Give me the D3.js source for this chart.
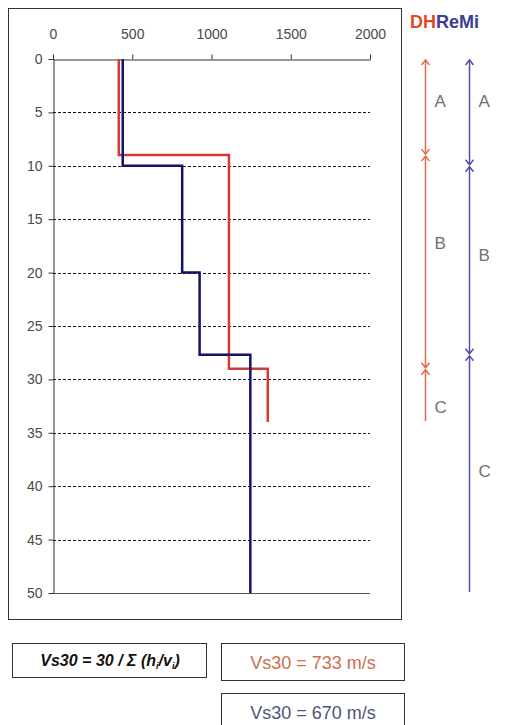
<!DOCTYPE html>
<html>
<head>
<meta charset="utf-8">
<script src="https://cdn.jsdelivr.net/npm/d3@7"></script>
<style>
  html, body { margin: 0; padding: 0; background: #fff; }
  svg { display: block; font-family: Arial, "Liberation Sans", sans-serif; }
</style>
</head>
<body>
<svg id="chart" width="505" height="725"></svg>
<script>
// Shear-wave velocity profiles (m/s) versus depth (m)
const velocityTicks = [0, 500, 1000, 1500, 2000];
const depthTicks = [0, 5, 10, 15, 20, 25, 30, 35, 40, 45, 50];

// Downhole (DH) layers
const dhTop    = [0, 9, 29];
const dhBottom = [9, 29, 34];
const dhVs     = [415, 1110, 1355];

// ReMi layers
const remiTop    = [0, 10, 20, 27.7];
const remiBottom = [10, 20, 27.7, 50];
const remiVs     = [440, 815, 925, 1245];

// Stratigraphic units for each method
const dhUnits       = ["A", "B", "C"];
const dhUnitTop     = [0, 9, 29];
const dhUnitBottom  = [9, 29, 34];
const dhUnitLabelAt = [4.1, 17.4, 32.7];

const remiUnits       = ["A", "B", "C"];
const remiUnitTop     = [0, 10, 27.7];
const remiUnitBottom  = [10, 27.7, 50];
const remiUnitLabelAt = [4.1, 18.5, 38.7];

const legendNames = ["DH", "ReMi"];
const vs30Values  = [733, 670];
const formulaText = "Vs30 = 30 / \u03A3 (h";

const colors = {
  dhLine: "#d23a3a",
  remiLine: "#12126a",
  dhArrow: "#e06a48",
  remiArrow: "#5050a2",
  dhText: "#e2471f",
  remiText: "#3a3c96",
  dhValue: "#c8704f",
  remiValue: "#4d5578"
};

const svg = d3.select("#chart");

const x = d3.scaleLinear().domain([0, 2000]).range([53, 370]);
const y = d3.scaleLinear().domain([0, 50]).range([59, 593]);

// Outer chart frame
svg.append("rect")
  .attr("x", 8.5).attr("y", 8.5)
  .attr("width", 393).attr("height", 611)
  .attr("fill", "none").attr("stroke", "#333").attr("stroke-width", 1);

// Dashed horizontal gridlines
svg.append("g")
  .selectAll("line")
  .data(depthTicks.filter(d => d > 0 && d < 50))
  .join("line")
  .attr("x1", x(0)).attr("x2", x(2000))
  .attr("y1", d => Math.round(y(d)) + 0.5).attr("y2", d => Math.round(y(d)) + 0.5)
  .attr("stroke", "#111").attr("stroke-width", 1)
  .attr("stroke-dasharray", "3,2");

// Bottom boundary of the plot area
svg.append("line")
  .attr("x1", x(0)).attr("x2", x(2000))
  .attr("y1", Math.round(y(50)) + 0.5).attr("y2", Math.round(y(50)) + 0.5)
  .attr("stroke", "#555").attr("stroke-width", 1);

// Velocity axis along the top
const xAxis = svg.append("g")
  .attr("transform", `translate(0,${Math.round(y(0)) + 0.5})`)
  .call(d3.axisTop(x).tickValues(velocityTicks).tickFormat(d3.format("d"))
    .tickSize(5).tickPadding(16).tickSizeOuter(0));

// Depth axis along the left
const yAxis = svg.append("g")
  .attr("transform", `translate(${Math.round(x(0)) + 0.5},0)`)
  .call(d3.axisLeft(y).tickValues(depthTicks).tickFormat(d3.format("d"))
    .tickSize(5).tickPadding(6).tickSizeOuter(0));

[xAxis, yAxis].forEach(g => {
  g.select(".domain").attr("stroke", "#333");
  g.selectAll(".tick line").attr("stroke", "#333");
  g.selectAll(".tick text")
    .attr("fill", "#4a4a4a")
    .style("font-size", "14px")
    .style("font-family", "Arial, 'Liberation Sans', sans-serif");
});

// Step profile builder: each layer drawn as a vertical segment joined by horizontals
function stepPoints(tops, bottoms, vs) {
  const pts = [];
  vs.forEach((v, i) => {
    pts.push([x(v), y(tops[i])]);
    pts.push([x(v), y(bottoms[i])]);
  });
  return pts;
}
const line = d3.line();

svg.append("path")
  .attr("d", line(stepPoints(dhTop, dhBottom, dhVs)))
  .attr("fill", "none")
  .attr("stroke", colors.dhLine)
  .attr("stroke-width", 2.5);

svg.append("path")
  .attr("d", line(stepPoints(remiTop, remiBottom, remiVs)))
  .attr("fill", "none")
  .attr("stroke", colors.remiLine)
  .attr("stroke-width", 2.5);

// Legend title: coloured method names
const legend = svg.append("text")
  .attr("x", 410).attr("y", 28)
  .style("font-size", "18px").style("font-weight", "bold");
legend.append("tspan").text(legendNames[0]).attr("fill", colors.dhText);
legend.append("tspan").text(legendNames[1]).attr("fill", colors.remiText);

// Unit brackets with double arrows
function drawUnits(xPos, tops, bottoms, names, labelAt, lineColor, lastOpenEnd) {
  const g = svg.append("g");
  const head = 4;
  tops.forEach((t, i) => {
    const y0 = y(t) + 1, y1 = y(bottoms[i]) - 1;
    g.append("line")
      .attr("x1", xPos).attr("x2", xPos)
      .attr("y1", y0).attr("y2", y1)
      .attr("stroke", lineColor).attr("stroke-width", 1.5);
    // upward head
    g.append("path")
      .attr("d", `M${xPos - head},${y0 + head + 1}L${xPos},${y0}L${xPos + head},${y0 + head + 1}`)
      .attr("fill", "none").attr("stroke", lineColor).attr("stroke-width", 1.5);
    // downward head, except where the last unit is open-ended
    if (!(lastOpenEnd && i === tops.length - 1)) {
      g.append("path")
        .attr("d", `M${xPos - head},${y1 - head - 1}L${xPos},${y1}L${xPos + head},${y1 - head - 1}`)
        .attr("fill", "none").attr("stroke", lineColor).attr("stroke-width", 1.5);
    }
    g.append("text")
      .attr("x", xPos + 9).attr("y", y(labelAt[i]))
      .attr("dominant-baseline", "middle")
      .attr("fill", "#707070")
      .style("font-size", "17px")
      .text(names[i]);
  });
}
drawUnits(425.5, dhUnitTop, dhUnitBottom, dhUnits, dhUnitLabelAt, colors.dhArrow, true);
drawUnits(469.5, remiUnitTop, remiUnitBottom, remiUnits, remiUnitLabelAt, colors.remiArrow, true);

// Formula box
svg.append("rect")
  .attr("x", 12.5).attr("y", 643.5).attr("width", 194).attr("height", 34)
  .attr("fill", "#fff").attr("stroke", "#333").attr("stroke-width", 1);
const formula = svg.append("text")
  .attr("x", 110).attr("y", 666)
  .attr("text-anchor", "middle")
  .attr("fill", "#111")
  .style("font-size", "16px").style("font-weight", "bold").style("font-style", "italic");
formula.append("tspan").text(formulaText);
formula.append("tspan").text("i").style("font-size", "9px").attr("dy", 3);
formula.append("tspan").text("/v").style("font-size", "16px").attr("dy", -3);
formula.append("tspan").text("i").style("font-size", "9px").attr("dy", 3);
formula.append("tspan").text(")").style("font-size", "16px").attr("dy", -3);

// Vs30 result boxes
const boxTops = [643.5, 693.5];
const boxHeights = [37, 40];
const valueColors = [colors.dhValue, colors.remiValue];
vs30Values.forEach((v, i) => {
  svg.append("rect")
    .attr("x", 221.5).attr("y", boxTops[i]).attr("width", 183).attr("height", boxHeights[i])
    .attr("fill", "#fff").attr("stroke", "#333").attr("stroke-width", 1);
  svg.append("text")
    .attr("x", 313).attr("y", boxTops[i] + 25)
    .attr("text-anchor", "middle")
    .attr("fill", valueColors[i])
    .style("font-size", "18px")
    .text(`Vs30 = ${v} m/s`);
});
</script>
</body>
</html>
